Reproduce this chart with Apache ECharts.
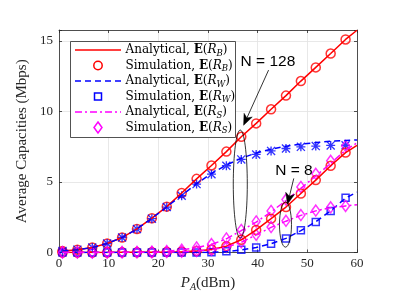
<!DOCTYPE html>
<html><head><meta charset="utf-8">
<script src="https://cdn.jsdelivr.net/npm/echarts@6/dist/echarts.min.js"></script>
<style>html,body{margin:0;padding:0;background:#fff}#c{width:397px;height:298px}</style>
</head><body><div id="c"></div>
<script>
// ---------------- data ----------------
const xSim = [0.7,3.7,6.7,9.7,12.7,15.7,18.7,21.7,24.7,27.7,30.7,33.7,36.7,39.7,42.7,45.7,48.7,51.7,54.7,57.7];
const xAna = [0.7,3.7,6.7,9.7,12.7,15.7,18.7,21.7,24.7,27.7,30.7,33.7,36.7,39.7,42.7,45.7,48.7,51.7,54.7,57.7,60];
// N = 128
const rB128Ana = [0.1,0.2,0.35,0.64,1.06,1.67,2.43,3.25,4.22,5.22,6.17,7.15,8.2,9.15,10.15,11.12,12.15,13.12,14.1,15.1,15.75];
const rB128Sim = [0.1,0.2,0.35,0.64,1.06,1.67,2.43,3.25,4.22,5.22,6.17,7.15,8.2,9.15,10.15,11.12,12.15,13.12,14.1,15.1];
const rW128Ana = [0.1,0.2,0.35,0.64,1.06,1.67,2.42,3.24,4.05,4.88,5.6,6.2,6.68,7.05,7.33,7.53,7.68,7.79,7.88,7.94,7.98];
const rW128Sim = [0.1,0.2,0.35,0.64,1.06,1.66,2.4,3.22,4.02,4.85,5.55,6.15,6.6,6.95,7.2,7.37,7.49,7.54,7.59,7.6];
const rS128Ana = [0.01,0.01,0.01,0.02,0.02,0.03,0.05,0.09,0.18,0.34,0.57,0.97,1.55,2.15,2.88,3.68,4.55,5.42,6.32,7.25,7.77];
const rS128Sim = [0.02,0.02,0.02,0.02,0.03,0.04,0.06,0.1,0.2,0.36,0.6,1.0,1.6,2.2,2.95,3.75,4.65,5.58,6.5,7.55];
// N = 8
const rB8Ana = [0,0,0,0,0.01,0.01,0.02,0.03,0.05,0.1,0.21,0.45,0.9,1.6,2.4,3.22,4.18,5.13,6.15,7.08,7.6];
const rB8Sim = [0,0,0,0,0.01,0.01,0.02,0.03,0.05,0.1,0.21,0.45,0.9,1.6,2.4,3.22,4.18,5.13,6.15,7.08];
const rW8Ana = [0,0,0,0,0,0,0,0,0,0,0.01,0.06,0.18,0.35,0.62,1.0,1.55,2.18,2.95,3.86,4.28];
const rW8Sim = [0,0,0,0,0,0,0,0,0,0,0.01,0.08,0.2,0.35,0.62,1.0,1.58,2.17,2.95,3.88];
const rS8Ana = [0,0,0,0,0.01,0.01,0.02,0.03,0.05,0.1,0.2,0.39,0.72,1.25,1.78,2.22,2.63,2.95,3.18,3.3,3.38];
const rS8Sim = [0,0,0,0,0.01,0.01,0.02,0.03,0.05,0.1,0.2,0.4,0.72,1.25,1.8,2.25,2.65,2.97,3.2,3.3];
const xTicks = [0,10,20,30,40,50,60];
const yTicks = [0,5,10,15];
const legendLabels = [
  ['Analytical, ', 'B'], ['Simulation, ', 'B'],
  ['Analytical, ', 'W'], ['Simulation, ', 'W'],
  ['Analytical, ', 'S'], ['Simulation, ', 'S']
];
const annoTexts = [['N = 128', 42.06, 13.5], ['N = 8', 47.3, 5.83]];
const annoArrows = [[42.2, 12.93, 37.17, 9.02], [47.27, 5.25, 46.0, 3.43]];
const annoEllipses = [[36.5, 4.85, 1.41, 3.83], [45.6, 1.98, 1.21, 1.6]];

// ---------------- styling ----------------
const RED = '#ff0000', BLUE = '#0000ff', MAG = '#ff00ff', AX = '#262626';
const DASH = [6, 4], DASHDOT = [7, 3, 2, 3];
const ASTER = 'path://M8.5,0h3v20h-3zM0,8.5h20v3h-20zM2.1,0L20,17.9L17.9,20L0,2.1zM17.9,0L20,2.1L2.1,20L0,17.9z';
const pair = (xs, ys) => xs.map((x, i) => [x, ys[i]]);

function lineSeries(name, ys, color, dash) {
  return { name, type: 'line', data: pair(xAna, ys), symbol: 'none', silent: true,
    lineStyle: { color, width: 1.5, type: dash || 'solid' }, animation: false };
}
function simSeries(name, ys, symbol, size, color, filled) {
  return { name, type: 'scatter', data: pair(xSim, ys), symbol, symbolSize: size, silent: true,
    itemStyle: filled ? { color } : { color: 'rgba(0,0,0,0)', borderColor: color, borderWidth: 1.5 },
    animation: false };
}

const chart = echarts.init(document.getElementById('c'), null, { renderer: 'canvas' });
const serif = 'Liberation Serif';
const yMax = 15.77;

const baseAxis = {
  axisLine: { show: true, onZero: false, lineStyle: { color: AX, width: 0.8 } },
  axisTick: { show: true, inside: true, length: 3, lineStyle: { color: AX, width: 0.8 } }
};

chart.setOption({
  animation: false,
  backgroundColor: '#fff',
  grid: { left: 59, right: 40, top: 30, bottom: 45.5 },
  xAxis: [
    Object.assign({}, baseAxis, {
      type: 'value', min: 0, max: 60, interval: 10, position: 'bottom',
      axisLabel: { color: AX, fontFamily: serif, fontSize: 13, margin: 5,
        formatter: v => xTicks.includes(v) ? String(v) : '' },
      splitLine: { show: true, lineStyle: { color: '#e2e2e2', width: 0.8 } },
      name: '{i|P}{s|A}{n|(dBm)}', nameLocation: 'middle', nameGap: 21,
      nameTextStyle: { rich: {
        i: { fontFamily: serif, fontSize: 15, fontStyle: 'italic', color: AX, lineHeight: 18, verticalAlign: 'middle' },
        s: { fontFamily: serif, fontSize: 10, fontStyle: 'italic', color: AX, lineHeight: 10, verticalAlign: 'bottom' },
        n: { fontFamily: serif, fontSize: 15, color: AX, lineHeight: 18, verticalAlign: 'middle' } } }
    }),
    Object.assign({}, baseAxis, {
      type: 'value', min: 0, max: 60, interval: 10, position: 'top',
      axisLabel: { show: false }, splitLine: { show: false } })
  ],
  yAxis: [
    Object.assign({}, baseAxis, {
      type: 'value', min: 0, max: yMax, interval: 5, position: 'left',
      axisLabel: { color: AX, fontFamily: serif, fontSize: 13, margin: 6,
        formatter: v => yTicks.includes(v) ? String(v) : '' },
      splitLine: { show: true, lineStyle: { color: '#e2e2e2', width: 0.8 } },
      name: 'Average Capacities (Mbps)', nameLocation: 'middle', nameGap: 22,
      nameTextStyle: { fontFamily: serif, fontSize: 15, color: AX }
    }),
    Object.assign({}, baseAxis, {
      type: 'value', min: 0, max: yMax, interval: 5, position: 'right',
      axisLabel: { show: false }, splitLine: { show: false } })
  ],
  series: [
    lineSeries('aB128', rB128Ana, RED),
    simSeries('sB128', rB128Sim, 'circle', 9, RED, false),
    lineSeries('aW128', rW128Ana, BLUE, DASH),
    simSeries('sW128', rW128Sim, ASTER, 9, BLUE, true),
    lineSeries('aS128', rS128Ana, MAG, DASHDOT),
    simSeries('sS128', rS128Sim, 'diamond', [8, 11], MAG, false),
    lineSeries('aB8', rB8Ana, RED),
    simSeries('sB8', rB8Sim, 'circle', 9, RED, false),
    lineSeries('aW8', rW8Ana, BLUE, DASH),
    simSeries('sW8', rW8Sim, 'rect', 7, BLUE, false),
    lineSeries('aS8', rS8Ana, MAG, DASHDOT),
    simSeries('sS8', rS8Sim, 'diamond', [8, 11], MAG, false)
  ]
});

// ---------------- legend (drawn as graphic) ----------------
const g = [];
const LX = 70.5, LY = 41.5, LW = 165, LH = 96, rowH = 15.5;
g.push({ type: 'rect', z: 100, shape: { x: LX, y: LY, width: LW, height: LH },
  style: { fill: '#fff', stroke: AX, lineWidth: 0.8 } });
const rowStyle = [
  { kind: 'line', color: RED, dash: null }, { kind: 'circle', color: RED },
  { kind: 'line', color: BLUE, dash: DASH }, { kind: 'square', color: BLUE },
  { kind: 'line', color: MAG, dash: DASHDOT }, { kind: 'diamond', color: MAG }
];
const rich = {
  n: { fontFamily: 'DejaVu Serif', fontSize: 12, fill: '#000', lineHeight: 16, verticalAlign: 'middle' },
  b: { fontFamily: 'DejaVu Serif', fontSize: 12, fontWeight: 'bold', fill: '#000', lineHeight: 16, verticalAlign: 'middle' },
  i: { fontFamily: 'DejaVu Serif', fontSize: 12, fontStyle: 'italic', fill: '#000', lineHeight: 16, verticalAlign: 'middle' },
  s: { fontFamily: 'DejaVu Serif', fontSize: 8.5, fontStyle: 'italic', fill: '#000', lineHeight: 9, verticalAlign: 'bottom' }
};
legendLabels.forEach((lab, k) => {
  const cy = LY + 8.5 + k * rowH;
  const st = rowStyle[k];
  const mx = 98;
  if (st.kind === 'line') {
    g.push({ type: 'line', z: 101, shape: { x1: 75, y1: cy, x2: 121, y2: cy },
      style: { stroke: st.color, lineWidth: 1.5, lineDash: st.dash || null } });
  } else if (st.kind === 'circle') {
    g.push({ type: 'circle', z: 101, shape: { cx: mx, cy, r: 4.2 }, style: { fill: 'none', stroke: st.color, lineWidth: 1.5 } });
  } else if (st.kind === 'square') {
    g.push({ type: 'rect', z: 101, shape: { x: mx - 3.5, y: cy - 3.5, width: 7, height: 7 }, style: { fill: 'none', stroke: st.color, lineWidth: 1.5 } });
  } else {
    g.push({ type: 'polygon', z: 101, shape: { points: [[mx, cy - 5.5], [mx + 4, cy], [mx, cy + 5.5], [mx - 4, cy]] },
      style: { fill: 'none', stroke: st.color, lineWidth: 1.5 } });
  }
  g.push({ type: 'text', z: 101, x: 125.5, y: cy, style: {
    text: '{n|' + lab[0] + '}{b|E}{n|(}{i|R}{s|' + lab[1] + '}{n|)}',
    rich, verticalAlign: 'middle', align: 'left' } });
});

// ---------------- annotations ----------------
const px = (x, y) => chart.convertToPixel({ gridIndex: 0 }, [x, y]);
annoTexts.forEach(t => {
  const p = px(t[1], t[2]);
  g.push({ type: 'text', z: 110, x: p[0], y: p[1], style: { text: t[0], fontFamily: 'Liberation Sans', fontSize: 15.5,
    fill: '#000', align: 'center', verticalAlign: 'middle' } });
});
annoArrows.forEach(a => {
  const s = px(a[0], a[1]), t = px(a[2], a[3]);
  const dx = t[0] - s[0], dy = t[1] - s[1], len = Math.hypot(dx, dy);
  const ux = dx / len, uy = dy / len, nx = -uy, ny = ux;
  const L = 11, W = 4.5, notch = 3;
  const b = [t[0] - ux * L, t[1] - uy * L];
  const m = [t[0] - ux * (L - notch), t[1] - uy * (L - notch)];
  g.push({ type: 'line', z: 110, shape: { x1: s[0], y1: s[1], x2: m[0], y2: m[1] }, style: { stroke: '#000', lineWidth: 0.8 } });
  g.push({ type: 'polygon', z: 110, shape: { points: [t, [b[0] + nx * W, b[1] + ny * W], m, [b[0] - nx * W, b[1] - ny * W]] },
    style: { fill: '#000', stroke: '#000', lineWidth: 0.5 } });
});
annoEllipses.forEach(e => {
  const c = px(e[0], e[1]), r = px(e[0] + e[2], e[1] + e[3]);
  g.push({ type: 'ellipse', z: 110, shape: { cx: c[0], cy: c[1], rx: Math.abs(r[0] - c[0]), ry: Math.abs(r[1] - c[1]) },
    style: { fill: 'none', stroke: '#000', lineWidth: 0.8 } });
});
chart.setOption({ graphic: g });
</script>
</body></html>
